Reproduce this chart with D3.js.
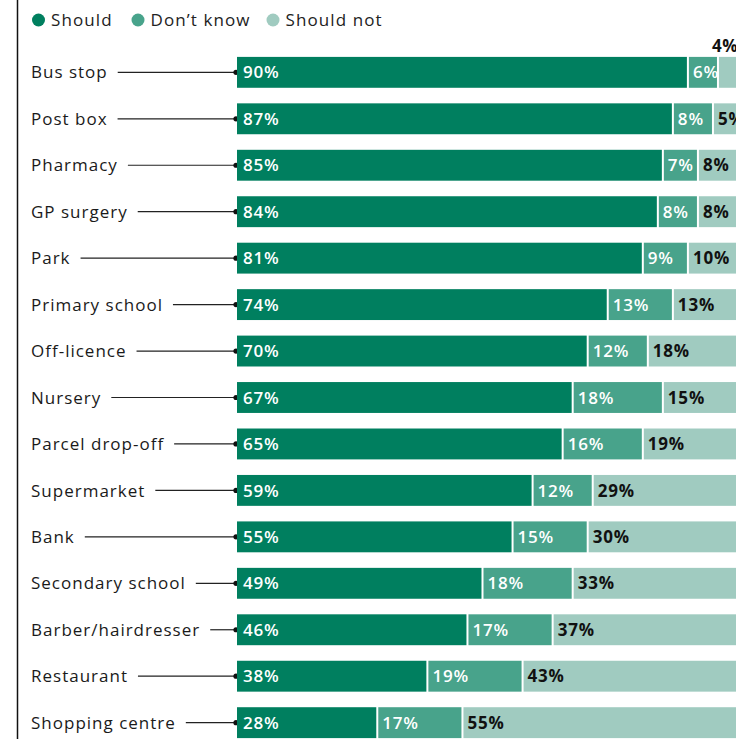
<!DOCTYPE html>
<html><head><meta charset="utf-8">
<script src="https://cdn.jsdelivr.net/npm/d3@7"></script>
<style>
html,body{margin:0;padding:0;background:#fff;}
svg{display:block;}
text{font-family:"Open Sans",sans-serif;}
</style></head>
<body>
<svg id="chart" width="736" height="739"></svg>
<script>
const categories = ["Bus stop","Post box","Pharmacy","GP surgery","Park","Primary school","Off-licence","Nursery","Parcel drop-off","Supermarket","Bank","Secondary school","Barber/hairdresser","Restaurant","Shopping centre"];
const should    = [90,87,85,84,81,74,70,67,65,59,55,49,46,38,28];
const dontKnow  = [6,8,7,8,9,13,12,18,16,12,15,18,17,19,17];
const shouldNot = [4,5,8,8,10,13,18,15,19,29,30,33,37,43,55];
const seriesNames = ["Should","Don\u2019t know","Should not"];
const colors = ["#007f5f","#48a38b","#a0cbc0"];
const labelColors = ["#fff","#fff","#111"];
const labelWeights = [600,600,700];

const svg = d3.select("#chart");
const W = 736, H = 739;

// left column rule
svg.append("line").attr("x1",17.5).attr("x2",17.5).attr("y1",0).attr("y2",H)
  .attr("stroke","#111").attr("stroke-width",1.5);

const x = d3.scaleLinear().domain([0,100]).range([237,738]);
const y = d3.scaleBand().domain(categories).range([49,746]).paddingInner(0.335).paddingOuter(0.17);

// legend
const legendX = [38.5,138,273];
const lg = svg.append("g");
seriesNames.forEach((n,i)=>{
  lg.append("circle").attr("cx",legendX[i]).attr("cy",20).attr("r",6.5).attr("fill",colors[i]);
  lg.append("text").attr("x",legendX[i]+12.5).attr("y",20).attr("dy","0.36em")
    .attr("font-size",17).attr("letter-spacing","1.1px").attr("fill","#222").text(n);
});

const data = categories.map((c,i)=>({cat:c, vals:[should[i],dontKnow[i],shouldNot[i]]}));

const rows = svg.append("g").selectAll("g").data(data).join("g");

rows.each(function(d){
  const g = d3.select(this);
  const cy = y(d.cat) + y.bandwidth()/2;
  const t = g.append("text").attr("x",31).attr("y",cy).attr("dy","0.36em")
    .attr("font-size",17).attr("letter-spacing","1px").attr("fill","#1a1a1a").text(d.cat);
  const tl = t.node().getComputedTextLength();
  g.append("line").attr("x1",31+tl+10).attr("x2",x(0)).attr("y1",cy).attr("y2",cy)
    .attr("stroke","#222").attr("stroke-width",1.2);
  g.append("circle").attr("cx",x(0)-1).attr("cy",cy).attr("r",2.6).attr("fill","#111");
  let cum = 0;
  d.vals.forEach((v,i)=>{
    const x0 = x(cum) + (i>0?1:0);
    const x1 = x(cum+v) - (i<2?1:0);
    g.append("rect").attr("x",x0).attr("y",y(d.cat)).attr("width",Math.max(0,x1-x0))
      .attr("height",y.bandwidth()).attr("fill",colors[i]);
    const small = v < 5 && i===2;
    if(small){
      g.append("text").attr("x",712).attr("y",y(d.cat)-5)
        .attr("font-size",17).attr("font-weight",700).attr("letter-spacing","0.6px")
        .attr("fill","#111").text(v+"%");
    } else {
      g.append("text").attr("x",x0 + (i===0?6:4)).attr("y",cy).attr("dy","0.36em")
        .attr("font-size",17).attr("font-weight",labelWeights[i]).attr("letter-spacing","0.8px")
        .attr("fill",labelColors[i]).text(v+"%");
    }
    cum += v;
  });
});
</script>
</body></html>
